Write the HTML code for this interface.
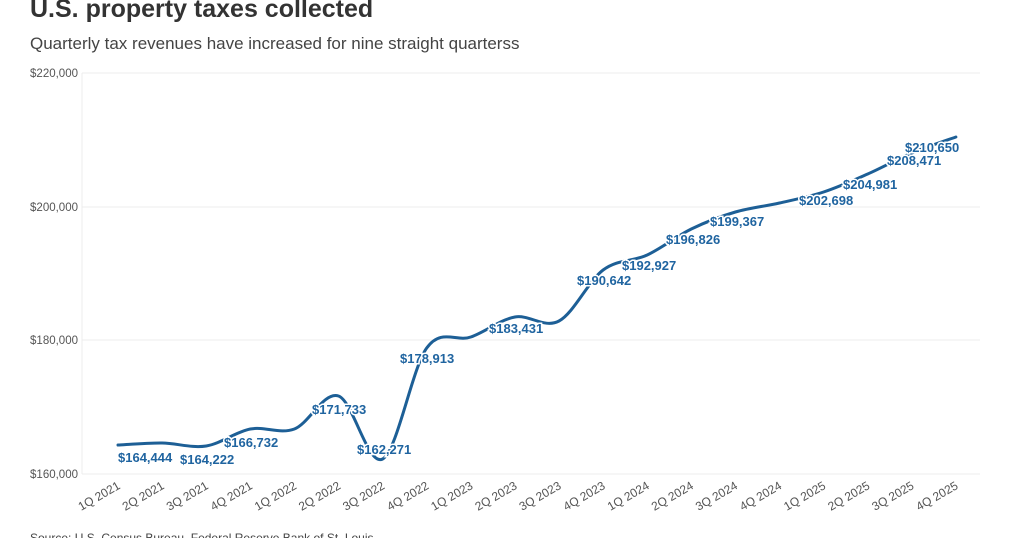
<!DOCTYPE html>
<html><head><meta charset="utf-8"><style>
body{margin:0;background:#fff;width:1024px;height:538px;overflow:hidden;font-family:"Liberation Sans",sans-serif}
</style></head><body>
<svg width="1024" height="538" xmlns="http://www.w3.org/2000/svg" font-family="Liberation Sans, sans-serif">
<rect width="1024" height="538" fill="#fff"/>
<text x="30" y="17" font-size="25" font-weight="bold" fill="#333">U.S. property taxes collected</text>
<text x="30" y="49" font-size="17" fill="#444">Quarterly tax revenues have increased for nine straight quarterss</text>
<g stroke="#ececec" stroke-width="1">
<line x1="82" y1="73" x2="980" y2="73"/><line x1="82" y1="207" x2="980" y2="207"/>
<line x1="82" y1="340" x2="980" y2="340"/><line x1="82" y1="474" x2="980" y2="474"/>
<line x1="82" y1="73" x2="82" y2="474"/>
</g>
<g font-size="11.5" fill="#555" text-anchor="end">
<text x="78" y="77">$220,000</text><text x="78" y="211">$200,000</text>
<text x="78" y="344">$180,000</text><text x="78" y="478">$160,000</text>
</g>
<g id="xt" font-size="12" fill="#555" text-anchor="end"></g>
<path id="ln" fill="none" stroke="#1d5f96" stroke-width="3" stroke-linecap="round"/>
<g font-size="13" font-weight="bold" fill="#1f64a0" stroke="#fff" stroke-width="3" paint-order="stroke">
<text x="118" y="462">$164,444</text><text x="180" y="464">$164,222</text>
<text x="224" y="447">$166,732</text><text x="312" y="414">$171,733</text>
<text x="357" y="454">$162,271</text><text x="400" y="363">$178,913</text>
<text x="489" y="333">$183,431</text><text x="577" y="285">$190,642</text>
<text x="622" y="270">$192,927</text><text x="666" y="244">$196,826</text>
<text x="710" y="226">$199,367</text><text x="799" y="205">$202,698</text>
<text x="843" y="189">$204,981</text><text x="887" y="165">$208,471</text>
<text x="905" y="152">$210,650</text>
</g>
<text x="30" y="542" font-size="12" fill="#444">Source: U.S. Census Bureau, Federal Reserve Bank of St. Louis</text>
</svg>
<script>
var ys=[445,443,446,429,429,396,459,348,337,317,321,270,255,229,212,203,192,174,153,137];
var pts=ys.map(function(y,i){return [118+i*44.1,y]});
var d="M"+pts[0][0]+","+pts[0][1];
for(var i=0;i<pts.length-1;i++){var p0=pts[i-1]||pts[i],p1=pts[i],p2=pts[i+1],p3=pts[i+2]||p2;
d+=" C"+(p1[0]+(p2[0]-p0[0])/6)+","+(p1[1]+(p2[1]-p0[1])/6)+" "+(p2[0]-(p3[0]-p1[0])/6)+","+(p2[1]-(p3[1]-p1[1])/6)+" "+p2[0]+","+p2[1];}
document.getElementById("ln").setAttribute("d",d);
var g=document.getElementById("xt"),s="";
for(var i=0;i<20;i++){var q=(i%4)+1,yr=2021+Math.floor(i/4),x=pts[i][0]+3;
s+='<text transform="translate('+x+',488) rotate(-30)">'+q+'Q '+yr+'</text>';}
g.innerHTML=s;
</script>
</body></html>
